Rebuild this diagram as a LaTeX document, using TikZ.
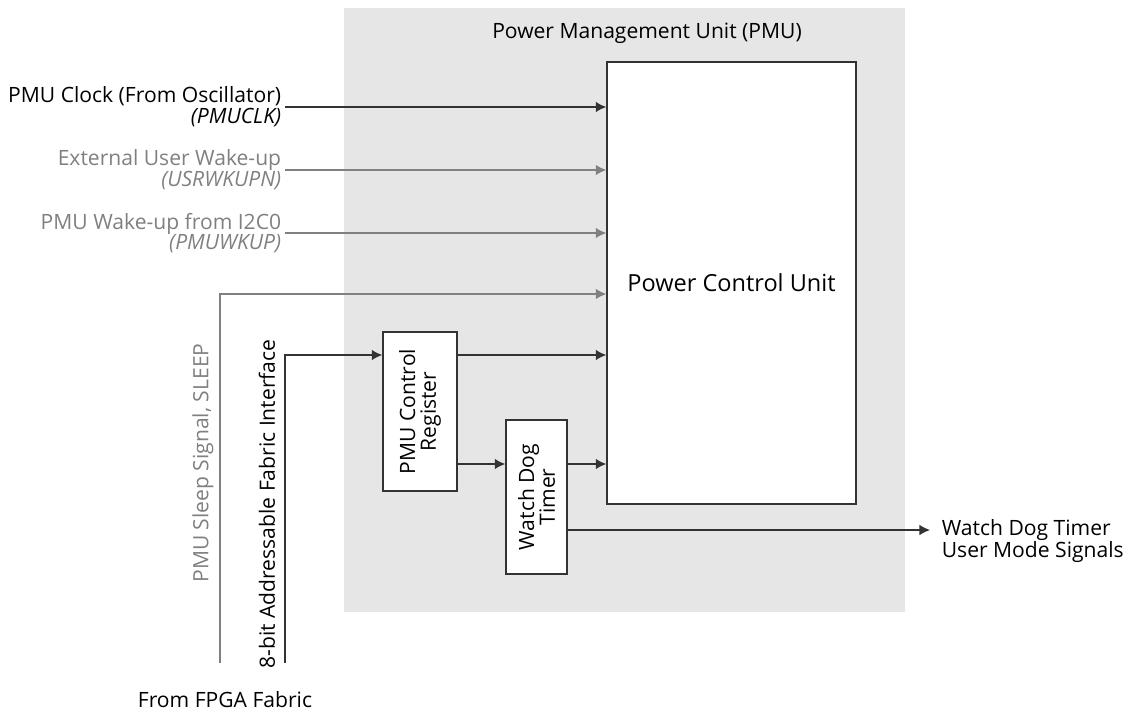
\documentclass[tikz,border=0pt]{standalone}
\usepackage{fontspec}
\setmainfont{Open Sans}
\usetikzlibrary{arrows.meta}

\definecolor{pmubg}{HTML}{E6E6E6}
\definecolor{sigdark}{HTML}{333333}
\definecolor{siggray}{HTML}{808080}

\tikzset{
  blk/.style={draw=sigdark, fill=white, line width=0.8pt, inner sep=0pt},
  sig/.style={draw=sigdark, line width=0.7pt, -{Latex[length=6pt,width=6pt]}},
  gsig/.style={sig, draw=siggray},
  lbl/.style={font=\fontsize{12}{11.8}\selectfont, inner sep=2pt},
}

\begin{document}
\begin{tikzpicture}[x=0.02cm, y=-0.02cm]
            \useasboundingbox (0,0) rectangle (1124,713);
            % PMU area
            \fill [pmubg] (344,8) rectangle (905,612);
            \node [lbl] (title) at (647,33) {Power Management Unit (PMU)};
            % blocks
            \node [blk, minimum width=249*0.02cm, minimum height=442*0.02cm,
                font=\fontsize{13.4}{16}\selectfont] (pcu) at (731.5,283) {Power Control Unit};
            \node [blk, minimum width=74*0.02cm, minimum height=159*0.02cm] (reg) at (420,411.5) {};
            \node [lbl, rotate=90, align=center] at (reg.center) {PMU Control\\Register};
            \node [blk, minimum width=61*0.02cm, minimum height=154*0.02cm] (wdt) at (536.5,497) {};
            \node [lbl, rotate=90, align=center] at (wdt.center) {Watch Dog\\Timer};
            % inputs on the left
            \node [lbl, anchor=east, align=right] (clk) at (285,107)
                {PMU Clock (From Oscillator)\\\textit{(PMUCLK)}};
            \node [lbl, anchor=east, align=right, text=siggray] (usr) at (285,170)
                {External User Wake-up\\\textit{(USRWKUPN)}};
            \node [lbl, anchor=east, align=right, text=siggray] (i2c) at (285,233)
                {PMU Wake-up from I2C0\\\textit{(PMUWKUP)}};
            \draw [sig] (clk.east) -- (clk.east -| pcu.west);
            \draw [gsig] (usr.east) -- (usr.east -| pcu.west);
            \draw [gsig] (i2c.east) -- (i2c.east -| pcu.west);
            % sleep and fabric interface
            \coordinate (slp) at (220,663);
            \coordinate (fab) at (285,663);
            \draw [gsig] (slp) |- (pcu.west |- 0,294);
            \node [lbl, rotate=90, text=siggray] (slptxt) at (203,463) {PMU Sleep Signal, SLEEP};
            \draw [sig] (fab) |- (reg.west |- 0,355);
            \node [lbl, rotate=90] (fabtxt) at (267,504) {8-bit Addressable Fabric Interface};
            \node [lbl] (fpga) at (225,700) {From FPGA Fabric};
            % internal signals
            \draw [sig] (reg.east |- 0,355) -- (pcu.west |- 0,355);
            \draw [sig] (reg.east |- 0,464) -- (wdt.west |- 0,464);
            \draw [sig] (wdt.east |- 0,464) -- (pcu.west |- 0,464);
            % watch dog output
            \node [lbl, anchor=west, align=left] (usrmode) at (938,541)
                {Watch Dog Timer\\User Mode Signals};
            \draw [sig] (wdt.east |- 0,530) -- (930,530);
        \end{tikzpicture}
\end{document}
